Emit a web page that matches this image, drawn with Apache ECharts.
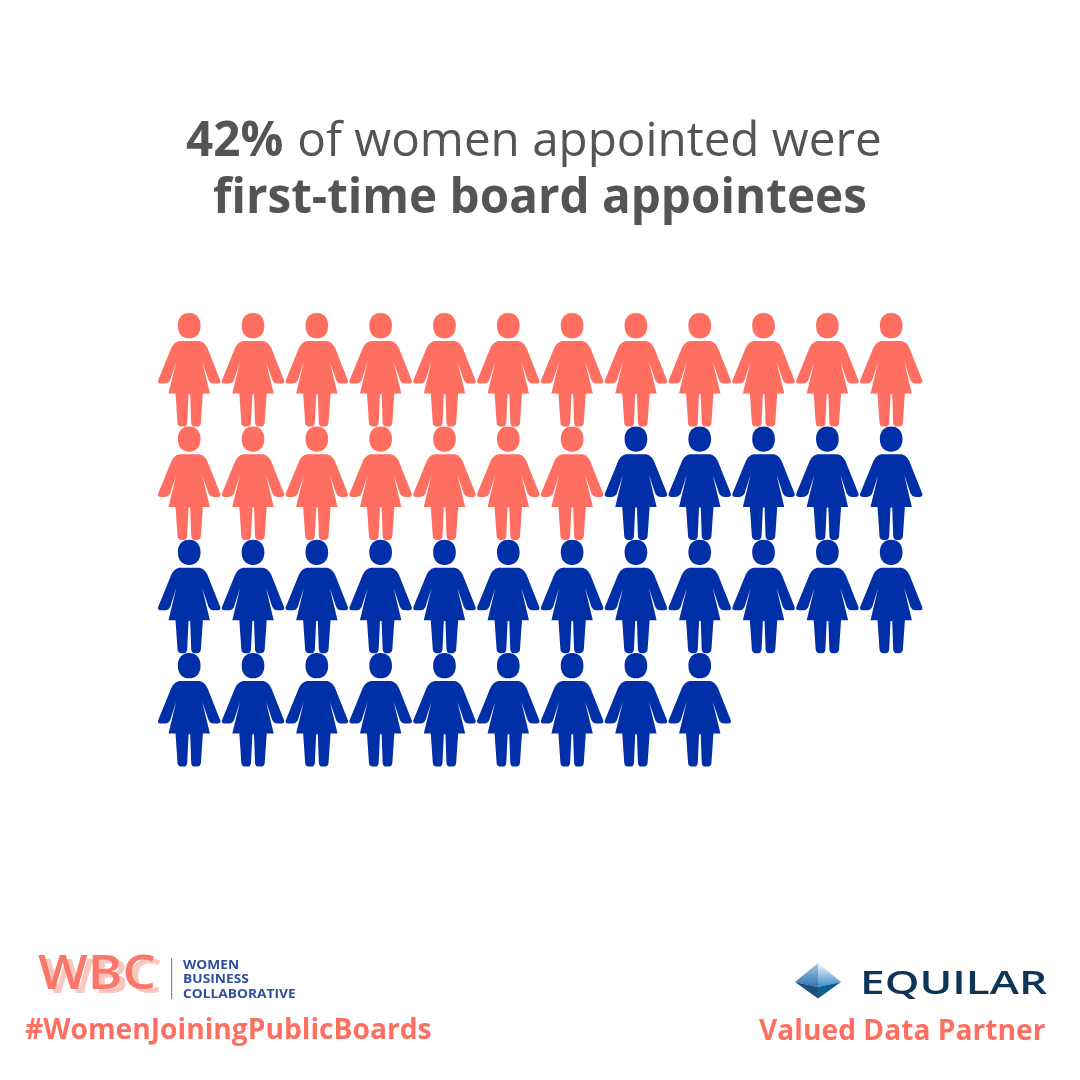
<!DOCTYPE html>
<html>
<head>
<meta charset="utf-8">
<style>html,body{margin:0;padding:0;background:#fff}#c{width:1080px;height:1080px}</style>
<script src="https://cdn.jsdelivr.net/npm/echarts@6/dist/echarts.min.js"></script>
</head>
<body>
<div id="c"></div>
<script>
const firstTimePerRow = [12, 7, 0, 0];
const otherPerRow = [0, 5, 12, 9];
const titleLine1Bold = '42%';
const titleLine1Rest = 'of women appointed were';
const titleLine2 = 'first-time board appointees';
const CORAL = '#FF6F61', BLUE = '#012FA8', GREY = '#545454';

const personPath = 'M117 24C138 24 151 38 151 62C151 86 138 100 117 100C96 100 83 86 83 62C83 38 96 24 117 24Z' +
 'M92 108L143 108C156 108 166 116 172 130L210 226C212 232 209 236 203 236L190 236C183 236 178 232 175 226L156 170L179 266L158 266L152 354C151 361 148 364 142 365L133 365C127 365 124 361 123 354L120 268L115 268L111 354C110 361 107 365 101 365L92 365C86 364 83 361 82 354L76 266L55 266L78 170L60 226C57 232 52 236 45 236L31 236C25 236 22 232 24 226L63 130C69 116 79 108 92 108Z';

function cells(counts, offsets) {
  const out = [];
  counts.forEach((n, row) => {
    const start = offsets ? offsets[row] : 0;
    for (let i = 0; i < n; i++) out.push([start + i, row]);
  });
  return out;
}
const series = (name, color, data) => ({
  name, type: 'scatter', data,
  symbol: 'path://' + personPath, symbolSize: [62.5, 113.5],
  itemStyle: { color, opacity: 1 }, silent: true, animation: false
});
const txt = (text, x, y, font, fill, scaleX) => ({
  type: 'text', x, y, scaleX: scaleX || 1,
  style: { text, font, fill, textAlign: 'left' }
});
const vgrad = (a, b) => new echarts.graphic.LinearGradient(0, 0, 0, 1, [{ offset: 0, color: a }, { offset: 1, color: b }]);

const chart = echarts.init(document.getElementById('c'), null, { renderer: 'canvas' });
const F = '"Open Sans"';
const TS = 47.6;
chart.setOption({
  animation: false,
  backgroundColor: '#fff',
  title: [
    { left: 181, top: 105.5, text: '{b|' + titleLine1Bold + '}{r|' + titleLine1Rest + '}',
      textStyle: { rich: {
        b: { fontFamily: F, fontWeight: 700, fontSize: TS, color: GREY, lineHeight: 64 },
        r: { fontFamily: F, fontWeight: 400, fontSize: TS, color: GREY, lineHeight: 64, padding: [0, 0, 0, 14] } } } },
    { left: 208, top: 162, text: titleLine2,
      textStyle: { fontFamily: F, fontWeight: 700, fontSize: TS, color: GREY, lineHeight: 64 } }
  ],
  grid: { left: 189.2, top: 369.8, width: 702, height: 340, containLabel: false },
  xAxis: { type: 'value', min: 0, max: 11, show: false },
  yAxis: { type: 'value', min: 0, max: 3, inverse: true, show: false },
  series: [
    series('First-time board appointees', CORAL, cells(firstTimePerRow)),
    series('Other women appointed', BLUE, cells(otherPerRow, firstTimePerRow))
  ],
  graphic: [
    txt('WBC', 44, 956, '600 47px "Open Sans"', '#FBC6BF', 1.12),
    txt('WBC', 38, 952.5, '600 47px "Open Sans"', 'rgba(250,115,100,0.97)', 1.12),
    { type: 'rect', shape: { x: 171, y: 958, width: 1.2, height: 41 }, style: { fill: '#6F8AC4' } },
    txt('WOMEN', 183, 959, '700 12.5px "Open Sans"', '#2F4E9E', 1.1),
    txt('BUSINESS', 183, 973, '700 12.5px "Open Sans"', '#2F4E9E', 1.1),
    txt('COLLABORATIVE', 183, 987.5, '700 12.5px "Open Sans"', '#2F4E9E', 1.1),
    txt('#WomenJoiningPublicBoards', 25, 1017, '700 28.2px "Open Sans"', CORAL),
    { type: 'polygon', shape: { points: [[795,982],[818,963],[818,987]] }, style: { fill: vgrad('#A8CBE6', '#2E74AE') } },
    { type: 'polygon', shape: { points: [[841,982],[818,963],[818,987]] }, style: { fill: vgrad('#F0F6FA', '#3F8FCB') } },
    { type: 'polygon', shape: { points: [[795,982],[818,987],[818,998.5]] }, style: { fill: '#1F4F7E' } },
    { type: 'polygon', shape: { points: [[841,982],[818,987],[818,998.5]] }, style: { fill: '#0E5F8E' } },
    txt('EQUILAR', 860, 968, '600 32.5px "Open Sans"', '#0E3558', 1.36),
    txt('Valued Data Partner', 759, 1018, '700 28.2px "Open Sans"', CORAL)
  ]
});
</script>
</body>
</html>
